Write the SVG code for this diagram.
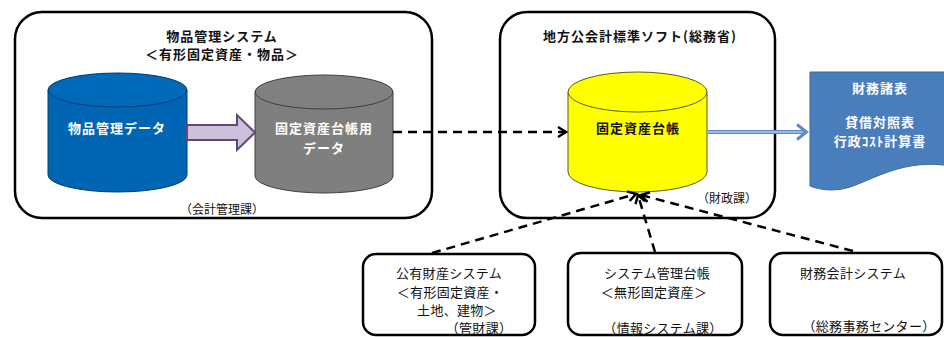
<svg xmlns="http://www.w3.org/2000/svg" width="944" height="337" viewBox="0 0 944 337">
<style>
text{font-family:"Noto Sans CJK JP","Noto Sans CJK SC",sans-serif;fill:#111;}
.b{font-weight:bold;font-size:13px;letter-spacing:1px;}
.n{font-size:13px;letter-spacing:0.3px;}
.s{font-size:12px;}
.w{fill:#fff;}
.frame{fill:#fff;stroke:#000;stroke-width:2.5;}
.dash{fill:none;stroke:#000;stroke-width:2.5;stroke-dasharray:9 6;}
</style>
<defs>
<marker id="ah" markerUnits="userSpaceOnUse" markerWidth="14" markerHeight="14" refX="0" refY="0" viewBox="-10 -7 12 14" orient="auto" overflow="visible">
<path d="M-8,-5 L0,0 L-8,5" fill="none" stroke="#000" stroke-width="2.5" stroke-dasharray="none"/>
</marker>
</defs>
<rect width="944" height="337" fill="#fff"/>

<g id="buppin-system">
<rect class="frame" x="15" y="12" width="417" height="206" rx="27"/>
<text class="b" x="222" y="41" text-anchor="middle">物品管理システム</text>
<text class="b" x="222" y="59" text-anchor="middle">＜有形固定資産・物品＞</text>
<text class="s" x="222" y="214" text-anchor="middle">（会計管理課）</text>
</g>

<g id="buppin-data">
<path d="M48,90 V175 A69.5,17 0 0 0 187,175 V90 Z" fill="#0066B3" stroke="#003D73" stroke-width="1"/>
<ellipse cx="117.5" cy="90" rx="69.5" ry="17" fill="#0069B8" stroke="#003D73" stroke-width="1"/>
<text class="b w" x="117" y="133" text-anchor="middle">物品管理データ</text>
</g>

<g id="kotei-data">
<path d="M255,92 V176 A69,17 0 0 0 393,176 V92 Z" fill="#7F7F7F" stroke="#404040" stroke-width="1"/>
<ellipse cx="324" cy="92" rx="69" ry="17" fill="#808080" stroke="#404040" stroke-width="1"/>
<text class="b w" x="324" y="133" text-anchor="middle">固定資産台帳用</text>
<text class="b w" x="324" y="153" text-anchor="middle">データ</text>
</g>

<g id="chiho-soft">
<rect class="frame" x="500" y="12" width="275" height="206" rx="27"/>
<text class="b" x="640" y="41" text-anchor="middle">地方公会計標準ソフト(総務省)</text>
<text class="s" x="727" y="203" text-anchor="middle">（財政課）</text>
</g>

<g id="kotei-daicho">
<path d="M568,92 V172 A69.5,20 0 0 0 707,172 V92 Z" fill="#FFFF00" stroke="#5A5A20" stroke-width="1"/>
<ellipse cx="637.5" cy="92" rx="69.5" ry="20" fill="#FFFF00" stroke="#5A5A20" stroke-width="1"/>
<text class="b" x="638" y="133" text-anchor="middle">固定資産台帳</text>
</g>

<g id="zaimu-shohyo">
<path d="M810,72 H950 V166 C905,158 872,180 850,187 C835,192 820,190 810,186 Z" fill="#4A7DBC" stroke="#3A68A0" stroke-width="1"/>
<text class="b w" x="880" y="93" text-anchor="middle">財務諸表</text>
<text class="b w" x="880" y="127" text-anchor="middle">貸借対照表</text>
<text class="b w" x="880" y="146" text-anchor="middle">行政ｺｽﾄ計算書</text>
</g>

<g id="koyu-zaisan">
<rect class="frame" x="363" y="254" width="172" height="81" rx="13"/>
<text class="n" x="449" y="278" text-anchor="middle">公有財産システム</text>
<text class="n" x="450" y="297" text-anchor="middle">＜有形固定資産・</text>
<text class="n" x="457" y="315" text-anchor="middle">土地、建物＞</text>
<text class="n" x="479" y="333" text-anchor="middle">（管財課）</text>
</g>

<g id="system-kanri">
<rect class="frame" x="568" y="253" width="174" height="82" rx="13"/>
<text class="n" x="657" y="278" text-anchor="middle">システム管理台帳</text>
<text class="n" x="654" y="297" text-anchor="middle">＜無形固定資産＞</text>
<text class="n" x="663" y="333" text-anchor="middle">（情報システム課）</text>
</g>

<g id="zaimu-kaikei">
<rect class="frame" x="770" y="253" width="172" height="82" rx="13"/>
<text class="n" x="853" y="278" text-anchor="middle">財務会計システム</text>
<text class="n" x="869" y="331" text-anchor="middle">（総務事務センター）</text>
</g>

<g id="connectors">
<path d="M187,125 H237 V115 L255,132.5 L237,150 V140 H187 Z" fill="#CCC0DA" stroke="#5F497A" stroke-width="2"/>
<line class="dash" x1="393" y1="132" x2="566" y2="132" marker-end="url(#ah)"/>
<line x1="708" y1="132" x2="805" y2="132" stroke="#5E8AC7" stroke-width="4"/>
<line x1="708" y1="132" x2="805" y2="132" stroke="#AFC8EA" stroke-width="1.5"/>
<polyline points="797,124.5 806.5,132 797,139.5" fill="none" stroke="#5E8AC7" stroke-width="3"/>
<line class="dash" x1="432" y1="253" x2="636" y2="194" marker-end="url(#ah)"/>
<line class="dash" x1="655" y1="252" x2="638" y2="195" marker-end="url(#ah)"/>
<line class="dash" x1="853" y1="251" x2="641" y2="195" marker-end="url(#ah)"/>
</g>
</svg>
